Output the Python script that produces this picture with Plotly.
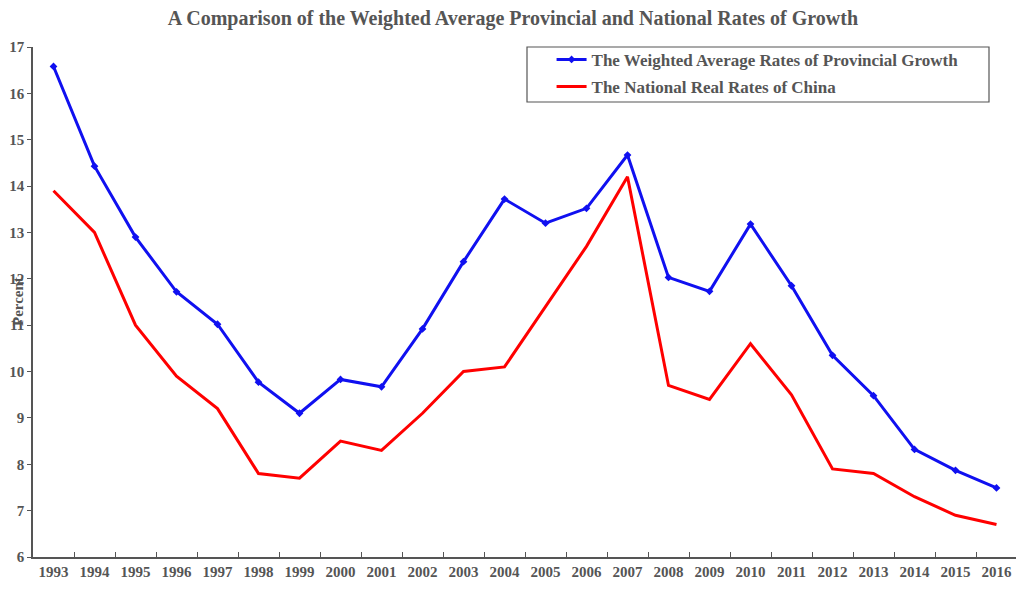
import plotly.graph_objects as go

years = [str(y) for y in range(1993, 2017)]
provincial = [16.58, 14.43, 12.9, 11.72, 11.02, 9.77, 9.1, 9.83, 9.67, 10.92, 12.37, 13.72,
              13.2, 13.52, 14.67, 12.03, 11.73, 13.18, 11.85, 10.35, 9.48, 8.32, 7.87, 7.49]
national = [13.9, 13.0, 11.0, 9.9, 9.2, 7.8, 7.7, 8.5, 8.3, 9.1, 10.0, 10.1,
            11.4, 12.7, 14.2, 9.7, 9.4, 10.6, 9.5, 7.9, 7.8, 7.3, 6.9, 6.7]

grey = "#555555"
serif = "Liberation Serif"

fig = go.Figure()
fig.add_trace(go.Scatter(
    x=years, y=provincial, mode="lines+markers",
    name="<b>The Weighted Average Rates of Provincial Growth</b>", legendgroup="a",
    line=dict(color="#1010f0", width=3),
    marker=dict(symbol="diamond", size=6, color="#1010f0"),
))
fig.add_trace(go.Scatter(
    x=years, y=national, mode="lines",
    name="<b>The National Real Rates of China</b>", legendgroup="b",
    line=dict(color="#ff0000", width=3),
))

# page has an 8px body margin, so the figure is sized/offset to fit the 1024x597 window
fig.update_layout(
    width=1016, height=589,
    plot_bgcolor="white", paper_bgcolor="white",
    margin=dict(l=25, r=7, t=39, b=40, autoexpand=False),
    title=dict(text="<b>A Comparison of the Weighted Average Provincial and National Rates of Growth</b>",
               x=0.497, xanchor="center", y=1 - 10 / 589, yanchor="middle",
               font=dict(family=serif, size=20, color=grey)),
    font=dict(family=serif, size=13, color=grey),
    legend=dict(x=0.527, y=1.01, xanchor="left", yanchor="top",
                bgcolor="rgba(0,0,0,0)", font=dict(family=serif, size=17, color=grey),
                tracegroupgap=2),
    showlegend=True,
)

fig.update_xaxes(
    type="category", range=[-0.5, len(years) - 0.5], showline=True, linecolor=grey, linewidth=1.5,
    ticks="inside", tickson="boundaries", ticklen=5, tickcolor=grey, tickangle=0,
    showgrid=False, tickfont=dict(family=serif, size=15, color=grey, weight="bold"),
)
fig.update_yaxes(
    range=[6, 17], dtick=1, showline=True, linecolor=grey, linewidth=1.5,
    ticks="outside", ticklen=4, tickcolor=grey, showgrid=False, zeroline=False,
    tickfont=dict(family=serif, size=15, color=grey, weight="bold"),
)

# legend frame
fig.add_shape(type="rect", xref="paper", yref="paper",
              x0=(527 - 33) / 984, x1=(989 - 33) / 984, y0=(557 - 102) / 510, y1=1.0,
              line=dict(color=grey, width=1.2))

fig.add_annotation(text="<b>Percent</b>", xref="paper", yref="paper", x=0, y=0.5,
                   xshift=-25, textangle=-90, showarrow=False,
                   font=dict(family=serif, size=15, color=grey))

fig.write_html("out.html")
